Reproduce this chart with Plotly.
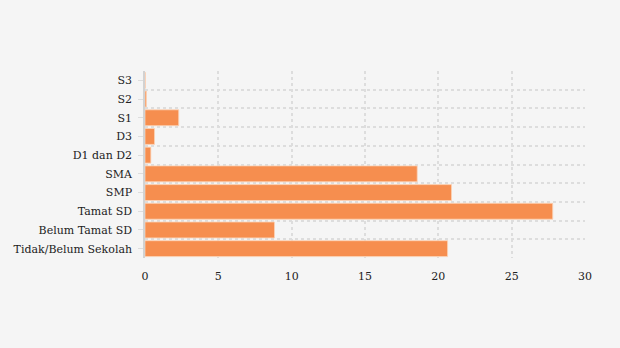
import plotly.graph_objects as go

categories = ["Tidak/Belum Sekolah", "Belum Tamat SD", "Tamat SD", "SMP", "SMA",
              "D1 dan D2", "D3", "S1", "S2", "S3"]
values = [20.63, 8.83, 27.8, 20.9, 18.56, 0.4, 0.65, 2.3, 0.1, 0.02]
x_ticks = [0, 5, 10, 15, 20, 25, 30]

positions = list(range(len(categories)))
boundaries = [p - 0.5 for p in positions] + [positions[-1] + 0.5]

fig = go.Figure(go.Bar(
    x=values, y=positions, orientation="h",
    marker=dict(color="#f68e4f", line=dict(color="#fbd3b8", width=0.8)),
    hovertext=categories,
))

fig.update_layout(
    width=620, height=348,
    margin=dict(l=145, r=35, t=71, b=90),
    paper_bgcolor="#f5f5f5", plot_bgcolor="#f5f5f5",
    font=dict(family="DejaVu Serif", size=11, color="#222"),
    bargap=0.15,
    showlegend=False,
)
fig.update_xaxes(
    range=[0, 30], tickvals=x_ticks, showgrid=True, gridcolor="#dddddd",
    griddash="3px,3px", gridwidth=1.5, zeroline=False, showline=False, ticks="",
    ticklen=0, ticklabelstandoff=10, fixedrange=True,
)
fig.update_yaxes(
    range=[-0.5, 9.5], tickvals=positions, ticktext=categories,
    showgrid=False, zeroline=False, showline=True, linecolor="#d2d2d2",
    linewidth=1.5, ticks="outside", ticklen=5, tickcolor="#dddddd",
    ticklabelstandoff=4,
    minor=dict(tickvals=boundaries, showgrid=True, gridcolor="#dddddd",
               griddash="3px,3px", gridwidth=1.5, ticks=""),
)

fig.write_html("out.html")
